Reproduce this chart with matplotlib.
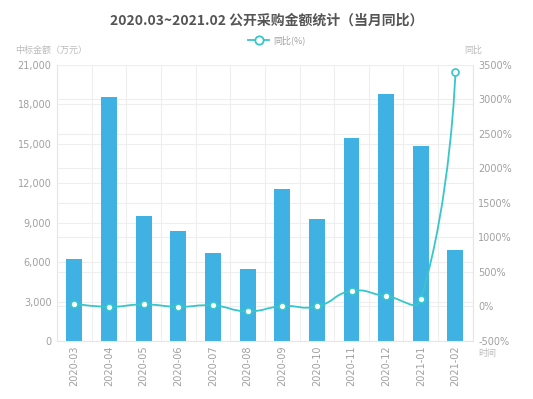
import matplotlib.pyplot as plt
from matplotlib.path import Path
from matplotlib.patches import PathPatch
from matplotlib.lines import Line2D
import numpy as np

plt.rcParams['font.family'] = ['DejaVu Sans', 'Noto Sans CJK SC']

months = ['2020-03', '2020-04', '2020-05', '2020-06', '2020-07', '2020-08',
          '2020-09', '2020-10', '2020-11', '2020-12', '2021-01', '2021-02']
amount = [6200, 18550, 9500, 8400, 6700, 5500, 11550, 9300, 15450, 18800, 14850, 6950]
yoy = [40, -5, 30, -5, 15, -70, 5, 0, 225, 150, 110, 3390]

left_ticks = [0, 3000, 6000, 9000, 12000, 15000, 18000, 21000]
right_ticks = [-500, 0, 500, 1000, 1500, 2000, 2500, 3000, 3500]

bar_color = '#3fb1e3'
line_color = '#36c6cb'
label_color = '#a0a0a0'
grid_color = '#eeeeee'
cjk = ['Noto Sans CJK SC', 'DejaVu Sans']

fig = plt.figure(figsize=(5.33, 3.99), dpi=100)
ax = fig.add_axes([0.107, 0.1454, 0.78, 0.692])
ax2 = ax.twinx()

x = np.arange(len(months))
ax.bar(x, amount, width=0.46, color=bar_color, zorder=2)
ax.set_xlim(-0.5, len(months) - 0.5)
ax.set_ylim(0, 21000)
ax.set_yticks(left_ticks)
ax.set_yticklabels(['{:,}'.format(v) for v in left_ticks])
ax.set_xticks(x)
ax.set_xticklabels(months, rotation=90)
ax.set_xticks(np.arange(len(months) + 1) - 0.5, minor=True)
ax.grid(True, axis='y', color=grid_color, lw=0.8, zorder=0)
ax.grid(True, axis='x', which='minor', color=grid_color, lw=0.8, zorder=0)
ax.set_axisbelow(True)
ax.tick_params(axis='both', which='both', length=0, colors=label_color, labelsize=7, pad=4)
ax.tick_params(axis='x', pad=3)

ax2.set_ylim(-500, 3500)
ax2.set_yticks(right_ticks)
ax2.set_yticklabels(['{}%'.format(v) for v in right_ticks])
ax2.tick_params(axis='y', length=0, colors=label_color, labelsize=7, pad=4)
# right-axis grid drawn on the bar axes so it stays behind the bars
for t in right_ticks:
    ax.axhline((t + 500) / 4000.0 * 21000, color=grid_color, lw=0.8, zorder=0)

for a in (ax, ax2):
    for s in a.spines.values():
        s.set_visible(False)
ax.spines['left'].set_visible(True)
ax.spines['left'].set_color('#e6e6e6')
ax.spines['bottom'].set_visible(True)
ax.spines['bottom'].set_color('#e6e6e6')
ax2.spines['right'].set_visible(True)
ax2.spines['right'].set_color('#e6e6e6')

# smooth line (echarts-like bezier), computed in pixel-like coords
xs = x.astype(float)
ys = np.array(yoy, dtype=float)
nx = xs / 11.0 * 381
ny = (ys + 500) / 4000.0 * 276
pts = np.column_stack([nx, ny])
smooth = 0.5
verts = [pts[0]]
codes = [Path.MOVETO]
cps = []
for i in range(len(pts)):
    if i == 0 or i == len(pts) - 1:
        cps.append((pts[i], pts[i]))
        continue
    v = pts[i + 1] - pts[i - 1]
    d0 = np.hypot(*(pts[i] - pts[i - 1]))
    d1 = np.hypot(*(pts[i + 1] - pts[i]))
    r = d0 / (d0 + d1)
    cps.append((pts[i] - v * smooth * r, pts[i] + v * smooth * (1 - r)))
for i in range(1, len(pts)):
    verts += [cps[i - 1][1], cps[i][0], pts[i]]
    codes += [Path.CURVE4] * 3
verts = np.array(verts)
dv = np.column_stack([verts[:, 0] / 381 * 11.0, verts[:, 1] / 276 * 4000.0 - 500])
ax2.add_patch(PathPatch(Path(dv, codes), fill=False, edgecolor=line_color, lw=1.3, zorder=3))
ax2.plot(xs, ys, linestyle='none', marker='o', ms=5, mfc='white', mec=line_color,
         mew=1.2, zorder=4, clip_on=False)

fig.text(0.5, 0.948, '2020.03~2021.02 公开采购金额统计（当月同比）', ha='center', va='center',
         fontsize=10, fontweight='bold', color='#555555', family=cjk)
# legend
fig.add_artist(Line2D([0.465, 0.505], [0.899, 0.899], color=line_color, lw=1.3,
                      transform=fig.transFigure))
fig.add_artist(Line2D([0.485], [0.899], marker='o', ms=6, mfc='white', mec=line_color,
                      mew=1.3, transform=fig.transFigure))
fig.text(0.513, 0.899, '同比(%)', ha='left', va='center', fontsize=6.5, color=label_color, family=cjk)

fig.text(0.095, 0.873, '中标金额（万元）', ha='center', va='center', fontsize=6.5,
         color='#bbbbbb', family=cjk)
fig.text(0.887, 0.873, '同比', ha='center', va='center', fontsize=6.5, color='#bbbbbb', family=cjk)
fig.text(0.915, 0.113, '时间', ha='center', va='center', fontsize=6.5, color='#bbbbbb', family=cjk)

fig.savefig('out.png', dpi=100)
